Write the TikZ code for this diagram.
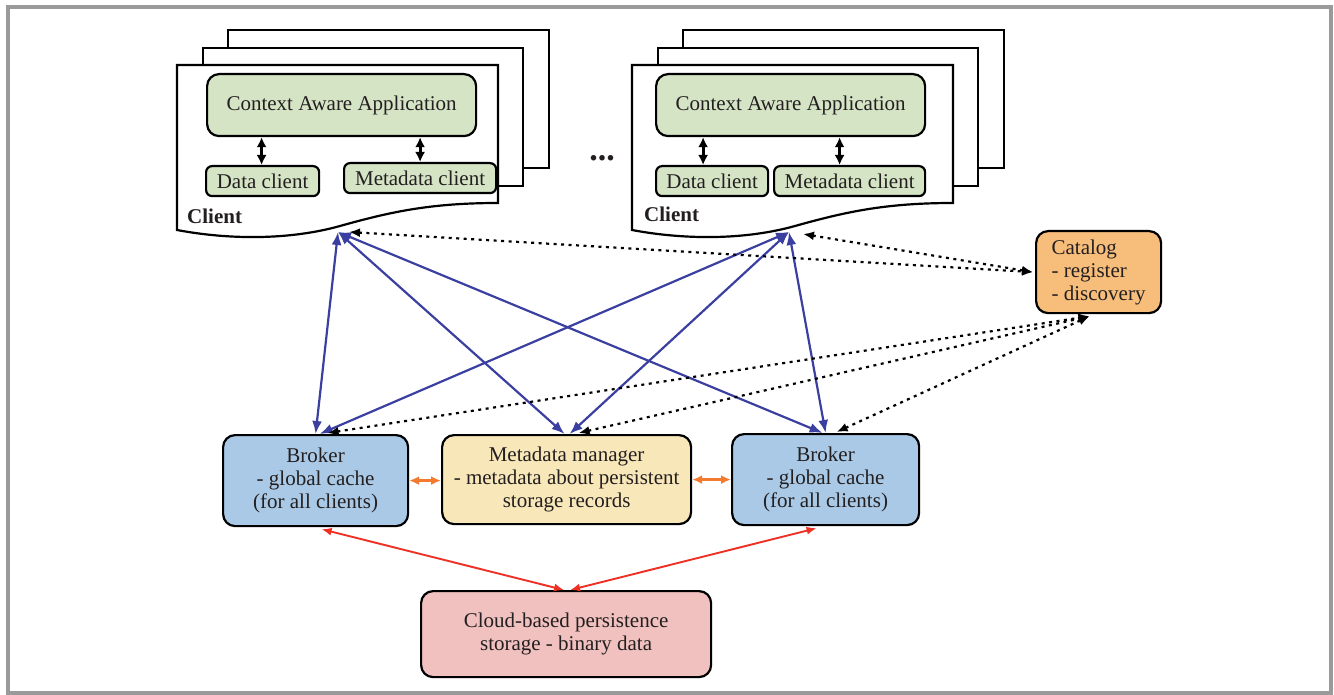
\documentclass[tikz,border=0pt]{standalone}
\usepackage{fontspec}
\setmainfont{Liberation Serif}
\usetikzlibrary{arrows.meta,calc}
\definecolor{txt}{HTML}{231F20}
\definecolor{gfill}{HTML}{D6E4C6}
\definecolor{bfill}{HTML}{A9C9E6}
\definecolor{yfill}{HTML}{F8E7B9}
\definecolor{ofill}{HTML}{F6BD7B}
\definecolor{pfill}{HTML}{F1C1BF}
\definecolor{navy}{HTML}{3B40A0}
\definecolor{orangeline}{HTML}{F37A2E}
\definecolor{redline}{HTML}{EE3124}
\definecolor{framegray}{HTML}{9A9A9A}
\begin{document}
\begin{tikzpicture}[x=1pt,y=-1pt,
  bigbox/.style={draw=black, line width=2.2pt, rounded corners=12pt, align=center, inner sep=0pt, text=txt, font=\fontsize{21}{23}\selectfont, anchor=north west},
  smallbox/.style={bigbox, rounded corners=6pt, fill=gfill},
  pagebox/.style={draw=black, fill=white, line width=2.2pt, line join=miter},
  blkarr/.style={{Latex[length=10pt,width=10pt]}-{Latex[length=10pt,width=10pt]}, line width=3pt, draw=black},
  bluearr/.style={{Latex[length=13pt,width=10pt]}-{Latex[length=13pt,width=10pt]}, line width=2.2pt, draw=navy},
  dotarr/.style={{Latex[length=11pt,width=9pt]}-{Latex[length=11pt,width=9pt]}, line width=2.2pt, draw=black, dash pattern=on 3pt off 4.5pt},
  redarr/.style={{Latex[length=10pt,width=8pt]}-{Latex[length=10pt,width=8pt]}, line width=1.9pt, draw=redline},
  orarr/.style={{Latex[length=10pt,width=9pt]}-{Latex[length=10pt,width=9pt]}, line width=2.4pt, draw=orangeline},
  clientlabel/.style={font=\fontsize{21}{23}\selectfont\bfseries, text=txt, anchor=west, inner sep=0pt}
]
\useasboundingbox (0,0) rectangle (1334,695);
\draw[framegray, line width=4pt] (8,7) rectangle (1331,693);

% client stacks
\foreach \dx in {0,455} {
  \begin{scope}[shift={(\dx,0)}]
    \draw[pagebox] (228,30) rectangle (549,168);
    \draw[pagebox] (203,48) rectangle (523,186);
    \draw[pagebox] (177,65) -- (498,65) -- (498,203)
      .. controls (430,203) and (390,212) .. (340,226)
      .. controls (290,240) and (230,240) .. (177,230) -- cycle;
  \end{scope}
}

% left client content
\node[bigbox, fill=gfill, minimum width=269, minimum height=62] (lcaa) at (206,73) {\raisebox{-4pt}{Context Aware Application}};
\node[smallbox, minimum width=113, minimum height=30] (ldc) at (205,165) {Data client};
\node[smallbox, minimum width=152, minimum height=30] (lmc) at (343,162) {Metadata client};
\draw[blkarr] ($(ldc.north)+(-1,0)$) -- ($(ldc.north |- lcaa.south)+(-1,0)$);
\draw[blkarr] (lmc.north) -- (lmc.north |- lcaa.south);
\node[clientlabel] (lcl) at (187,216) {Client};

% right client content
\node[bigbox, fill=gfill, minimum width=269, minimum height=62] (rcaa) at (655,73) {Context Aware Application};
\node[smallbox, minimum width=112, minimum height=30] (rdc) at (655,165) {Data client};
\node[smallbox, minimum width=151, minimum height=30] (rmc) at (773,165) {Metadata client};
\draw[blkarr] ($(rdc.north)+(-9,0)$) -- ($(rdc.north |- rcaa.south)+(-9,0)$);
\draw[blkarr] ($(rmc.north)+(-10,0)$) -- ($(rmc.north |- rcaa.south)+(-10,0)$);
\node[clientlabel] (rcl) at (644,214) {Client};

\node[font=\fontsize{34}{34}\selectfont\bfseries, text=txt, inner sep=0pt] (dots) at (602,158) {...};

% lower boxes
\node[bigbox, fill=bfill, minimum width=185, minimum height=91] (lb) at (222,434) {Broker\\- global cache\\(for all clients)};
\node[bigbox, fill=yfill, minimum width=249, minimum height=89] (mm) at (441,434) {Metadata manager\\- metadata about persistent\\storage records};
\node[bigbox, fill=bfill, minimum width=187, minimum height=91] (rb) at (731,433) {Broker\\- global cache\\(for all clients)};
\node[bigbox, fill=pfill, minimum width=290, minimum height=86] (cloud) at (420,590) {Cloud-based persistence\\storage - binary data};
\node[bigbox, fill=ofill, minimum width=125, minimum height=82, align=left] (cat) at (1035,230) {Catalog\\- register\\- discovery};

% connector end points at the client pages
\coordinate (lctip) at (338,232);
\coordinate (lcdot) at (349,232);
\coordinate (rctip) at (789,232);
\coordinate (rcdot) at (803,234);

% blue connectors
\draw[bluearr] (lctip) -- ($(lb.north)+(0,0)$);
\draw[bluearr] (lctip) -- ($(mm.north)+(-2,0)$);
\draw[bluearr] (lctip) -- ($(rb.north)+(-3,0)$);
\draw[bluearr] (rctip) -- ($(lb.north)+(4,0)$);
\draw[bluearr] (rctip) -- ($(mm.north)+(3,0)$);
\draw[bluearr] (rctip) -- ($(rb.north)+(0,0)$);

% dotted connectors
\draw[dotarr] (lcdot) -- ($(cat.west)+(-2,0)$);
\draw[dotarr] (rcdot) -- ($(cat.west)+(-2,0)$);
\draw[dotarr] ($(lb.north)+(12,-1)$) -- ($(cat.south)+(-9,2)$);
\draw[dotarr] ($(mm.north)+(12,-1)$) -- ($(cat.south)+(-9,2)$);
\draw[dotarr] ($(rb.north)+(11,-1)$) -- ($(cat.south)+(-9,2)$);

% orange connectors
\draw[orarr] (lb.east) -- (lb.east -| mm.west);
\draw[orarr] (mm.east) -- (mm.east -| rb.west);

% red connectors
\draw[redarr] ($(lb.south)+(6,2)$) -- ($(cloud.north)+(-2,0)$);
\draw[redarr] ($(rb.south)+(-9,2)$) -- ($(cloud.north)+(4,0)$);
\end{tikzpicture}
\end{document}
